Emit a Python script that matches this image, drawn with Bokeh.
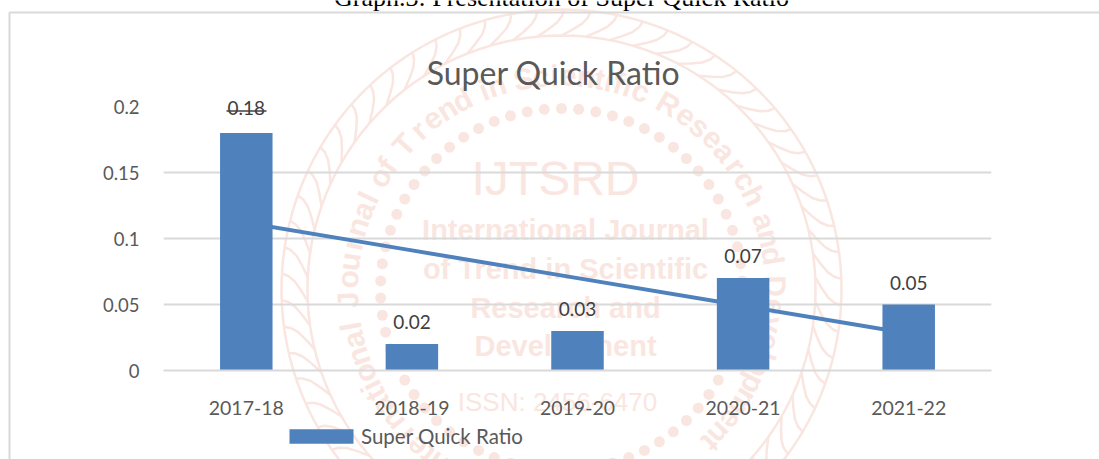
import math
from bokeh.core.properties import value
from bokeh.plotting import figure
from bokeh.models import (ColumnDataSource, FactorRange, Range1d, FixedTicker,
                          Legend, LegendItem, LabelSet)
from bokeh.embed import file_html
from bokeh.resources import INLINE

years = ["2017-18", "2018-19", "2019-20", "2020-21", "2021-22"]
values = [0.18, 0.02, 0.03, 0.07, 0.05]
value_labels = ["0.18", "0.02", "0.03", "0.07", "0.05"]
label_lift = [25, 22, 22, 22, 22]
trend = [0.112, 0.091, 0.07, 0.049, 0.028]
y_ticks = [0, 0.05, 0.1, 0.15, 0.2]
y_tick_labels = ["0", "0.05", "0.1", "0.15", "0.2"]
grid_ticks = [0.05, 0.1, 0.15]
series_name = "Super Quick Ratio"
page_title = "Graph.3: Presentation of Super Quick Ratio"

W, H = 1099, 459
BLUE = "#4f81bd"
GRID = "#d9d9d9"
TEXT = "#595959"
WM = "#fae6e0"
FONT = "Lato"
PLACE = {"position": "absolute", "top": "0px", "left": "0px"}

# ---- background sheet: page title, chart frame, legend and the watermark seal ----
bg = figure(width=W, height=H, x_range=Range1d(0, W), y_range=Range1d(H, 0),
            x_axis_type=None, y_axis_type=None, output_backend="svg", toolbar_location=None,
            min_border=0, outline_line_color=None, border_fill_color="white")
bg.grid.visible = False
bg.styles = PLACE


def put(x, y, text, **kw):
    args = dict(text_align="center", text_baseline="middle", text_color=WM,
                text_font=value("Liberation Sans"), text_font_size="29px")
    args.update(kw)
    bg.text([x], [y], text=[text], **args)


CX, CY, R_OUT, R_IN, R_DOT, R_TXT = 561, 289, 280, 254, 181, 214
ring = range(0, 361, 2)
rope_x, rope_y = [], []
for r in (R_OUT, R_IN):
    rope_x.append([CX + r * math.sin(math.radians(a)) for a in ring])
    rope_y.append([CY - r * math.cos(math.radians(a)) for a in ring])
for i in range(66):
    a0 = i * 360 / 66
    pts = [(R_IN + (R_OUT - R_IN) * t, a0 + 6 * t + 1.5 * math.sin(t * math.pi)) for t in (0, .25, .5, .75, 1)]
    rope_x.append([CX + r * math.sin(math.radians(a)) for r, a in pts])
    rope_y.append([CY - r * math.cos(math.radians(a)) for r, a in pts])
bg.multi_line(rope_x, rope_y, line_color=WM, line_width=2.5)

dots = [math.radians(i * 360 / 66) for i in range(66)]
bg.scatter([CX + R_DOT * math.sin(a) for a in dots], [CY - R_DOT * math.cos(a) for a in dots],
           size=11, fill_color=WM, line_color=None)

ring_text = "International Journal of Trend in Scientific Research and Development"
narrow = "iljtf ."
step = 4.75
weights = [(0.55 if c in narrow else 1.35 if c in "mMDwRTJ" else 1.0) for c in ring_text]
ang = -96 - sum(weights[:ring_text.index("J")]) * step
for c, w in zip(ring_text, weights):
    mid = ang + w * step / 2
    ang += w * step
    a = math.radians(mid)
    if c != " ":
        put(CX + R_TXT * math.sin(a), CY - R_TXT * math.cos(a), c, angle=-a,
            text_font_size="30px", text_font_style="bold")

put(555, 178, "IJTSRD", text_font_size="48px")
put(565, 229, "International Journal", text_font_style="bold")
put(565, 268, "of Trend in Scientific", text_font_style="bold")
put(565, 307, "Research and", text_font_style="bold")
put(565, 345, "Development", text_font_style="bold")
put(557, 401, "ISSN: 2456-6470", text_font_size="26px")

# Chart frame (runs off the right and bottom of the page)
bg.line([9, 9, 1110], [480, 12, 12], line_color=GRID, line_width=2)

put(553, 72, series_name, text_color=TEXT, text_font=value(FONT), text_font_size="32px")
put(561, -3, page_title, text_color="#000000", text_font=value("Liberation Serif"),
    text_font_size="26px")
bg.line([226, 266], [110.5, 110.5], line_color="#404040", line_width=1.5)

# The legend key's own glyph lies off the sheet; only its swatch shows
key = bg.vbar(x=[-100], top=[-100], bottom=[-110], width=1, fill_color=BLUE, line_color=None)
legend = Legend(items=[LegendItem(label=series_name, renderers=[key])], location=(281, 11),
                orientation="horizontal", glyph_width=80, glyph_height=18, label_standoff=0,
                padding=0, margin=0, border_line_color=None, background_fill_alpha=0,
                label_text_font=FONT, label_text_font_size="20.5px", label_text_color=TEXT)
bg.add_layout(legend, "center")

# ---- the chart itself ----
p = figure(width=W, height=H, x_range=FactorRange(factors=years, range_padding=0),
           y_range=Range1d(0, 0.25), output_backend="svg", toolbar_location=None,
           min_border_left=163, min_border_right=108, min_border_top=40, min_border_bottom=89,
           outline_line_color=None, background_fill_color=None, border_fill_color=None)
p.styles = PLACE

p.xgrid.visible = False
p.ygrid.ticker = FixedTicker(ticks=grid_ticks)
p.ygrid.grid_line_color = GRID
p.ygrid.grid_line_width = 2

p.yaxis.ticker = FixedTicker(ticks=y_ticks)
p.yaxis.major_label_overrides = dict(zip(y_ticks, y_tick_labels))
p.yaxis.axis_line_color = None
p.yaxis.major_tick_line_color = None
p.yaxis.minor_tick_line_color = None
p.yaxis.major_label_standoff = 18
p.yaxis.major_label_text_font = FONT
p.yaxis.major_label_text_font_size = "18.5px"
p.yaxis.major_label_text_color = TEXT

p.xaxis.axis_line_color = GRID
p.xaxis.axis_line_width = 2
p.xaxis.major_tick_line_color = None
p.xaxis.minor_tick_line_color = None
p.xaxis.major_label_standoff = 24
p.xaxis.major_label_text_font = FONT
p.xaxis.major_label_text_font_size = "19.5px"
p.xaxis.major_label_text_color = TEXT

src = ColumnDataSource(dict(year=years, value=values, label=value_labels, trend=trend, lift=label_lift))
p.line("year", "trend", source=src, line_color=BLUE, line_width=4)
p.vbar(x="year", top="value", width=0.317, source=src, fill_color=BLUE, line_color=None)

p.add_layout(LabelSet(x="year", y="value", text="label", source=src, text_align="center",
                      text_baseline="middle", y_offset="lift", text_font=value(FONT),
                      text_font_size="19px", text_color="#404040"))

open("out.html", "w").write(file_html((bg, p), INLINE))
